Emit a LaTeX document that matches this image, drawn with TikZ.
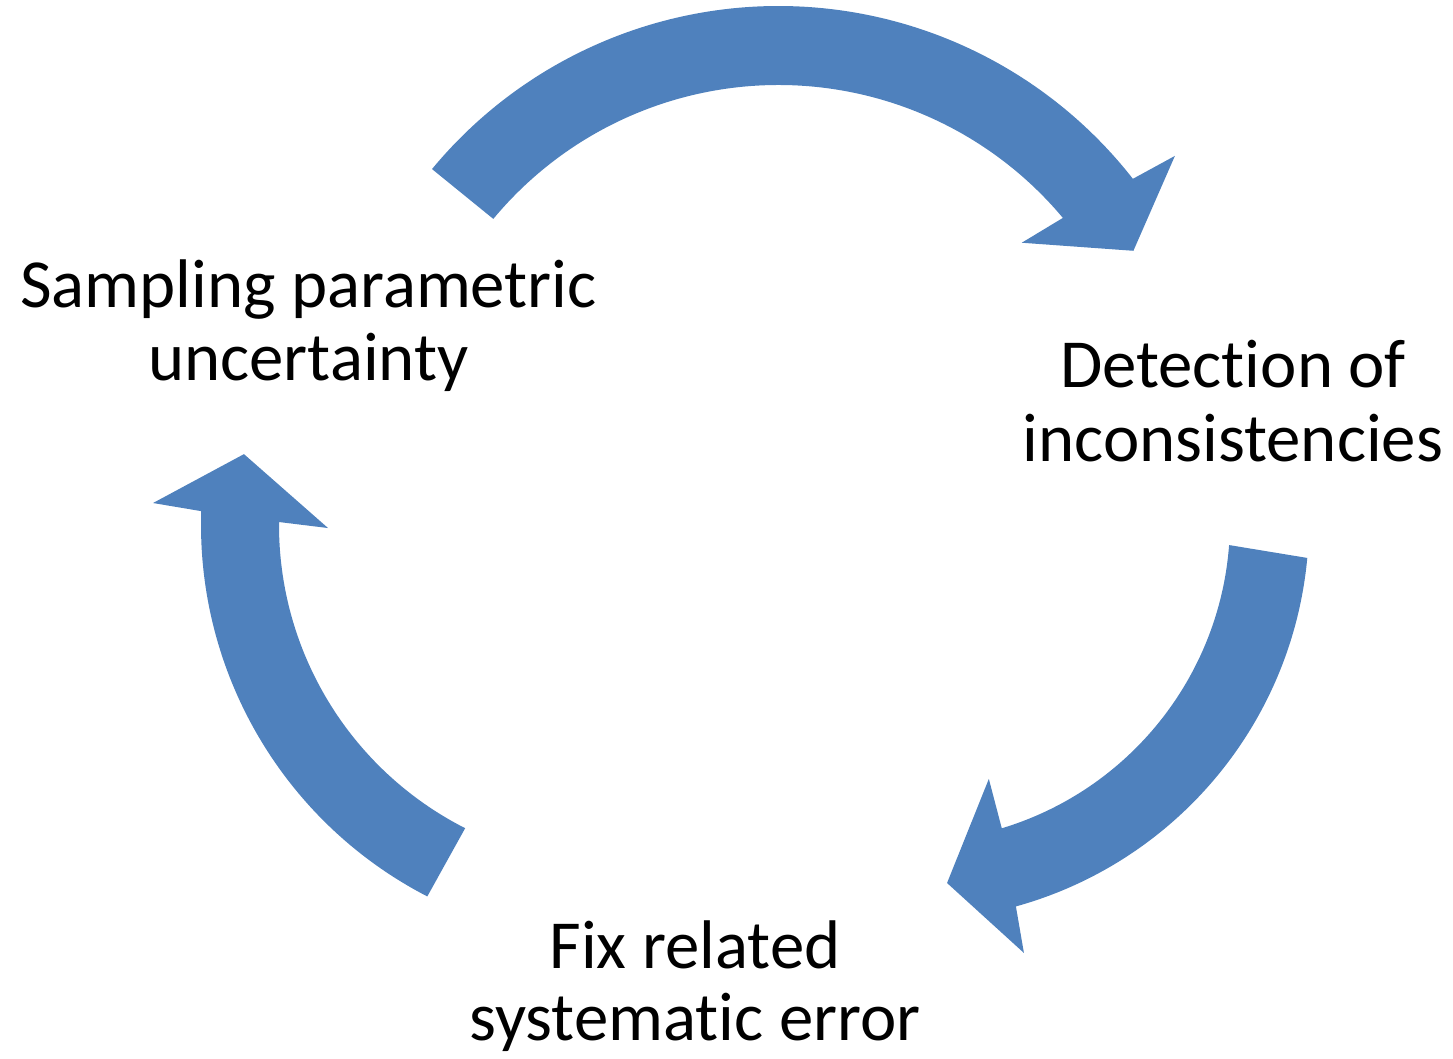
\documentclass[tikz,border=0pt]{standalone}
\usepackage{fontspec}
\setmainfont{Carlito}[Ligatures={NoCommon,NoContextual}]
\definecolor{arrowblue}{HTML}{4F81BD}
\tikzset{
  arrowshape/.style={fill=arrowblue, draw=none},
  lbl/.style={anchor=base, inner sep=0pt, font=\fontsize{68.8pt}{73pt}\selectfont, text=black}
}
\begin{document}
\begin{tikzpicture}[x=1pt,y=1pt]
\useasboundingbox (0,0) rectangle (1453,1058);
% centres of the three arcs
\coordinate (ct) at (778.5,602.3);
\coordinate (cl) at (619,533);
\coordinate (cr) at (909,537);
% top arrow
\fill[arrowshape] ([shift={(ct)}]140.4:449.7pt) arc[start angle=140.4, end angle=38.0, radius=449.7pt]
  -- ([shift={(ct)}]37.1:497pt) -- ([shift={(ct)}]30.0:409.8pt) -- ([shift={(ct)}]41.2:323.3pt)
  -- ([shift={(ct)}]39.9:370.7pt) arc[start angle=39.9, end angle=140.3, radius=370.7pt] -- cycle;
% right arrow
\fill[arrowshape] ([shift={(cr)}]-5.3:400pt) arc[start angle=-5.3, end angle=-74.5, radius=400pt]
  -- ([shift={(cr)}]-75.1:447pt) -- ([shift={(cr)}]-84.0:364pt) -- ([shift={(cr)}]-72.8:270pt)
  -- ([shift={(cr)}]-73.2:321pt) arc[start angle=-73.2, end angle=-4.3, radius=321pt] -- cycle;
% left arrow
\fill[arrowshape] ([shift={(cl)}]242.7:418pt) arc[start angle=242.7, end angle=178.1, radius=418pt]
  -- ([shift={(cl)}]177.3:466.5pt) -- ([shift={(cl)}]169.3:381.7pt) -- ([shift={(cl)}]180.6:291pt)
  -- ([shift={(cl)}]179.5:340pt) arc[start angle=179.5, end angle=243.1, radius=340pt] -- cycle;
% labels
\node[lbl] (samp1) at (308.5,750) {Sampling parametric};
\node[lbl] (samp2) at (308.5,677) {uncertainty};
\node[lbl] (det1) at (1233,670) {Detection of};
\node[lbl] (det2) at (1233,596) {inconsistencies};
\node[lbl] (fix1) at (695,90) {Fix related};
\node[lbl] (fix2) at (695,18) {systematic error};
\end{tikzpicture}
\end{document}
